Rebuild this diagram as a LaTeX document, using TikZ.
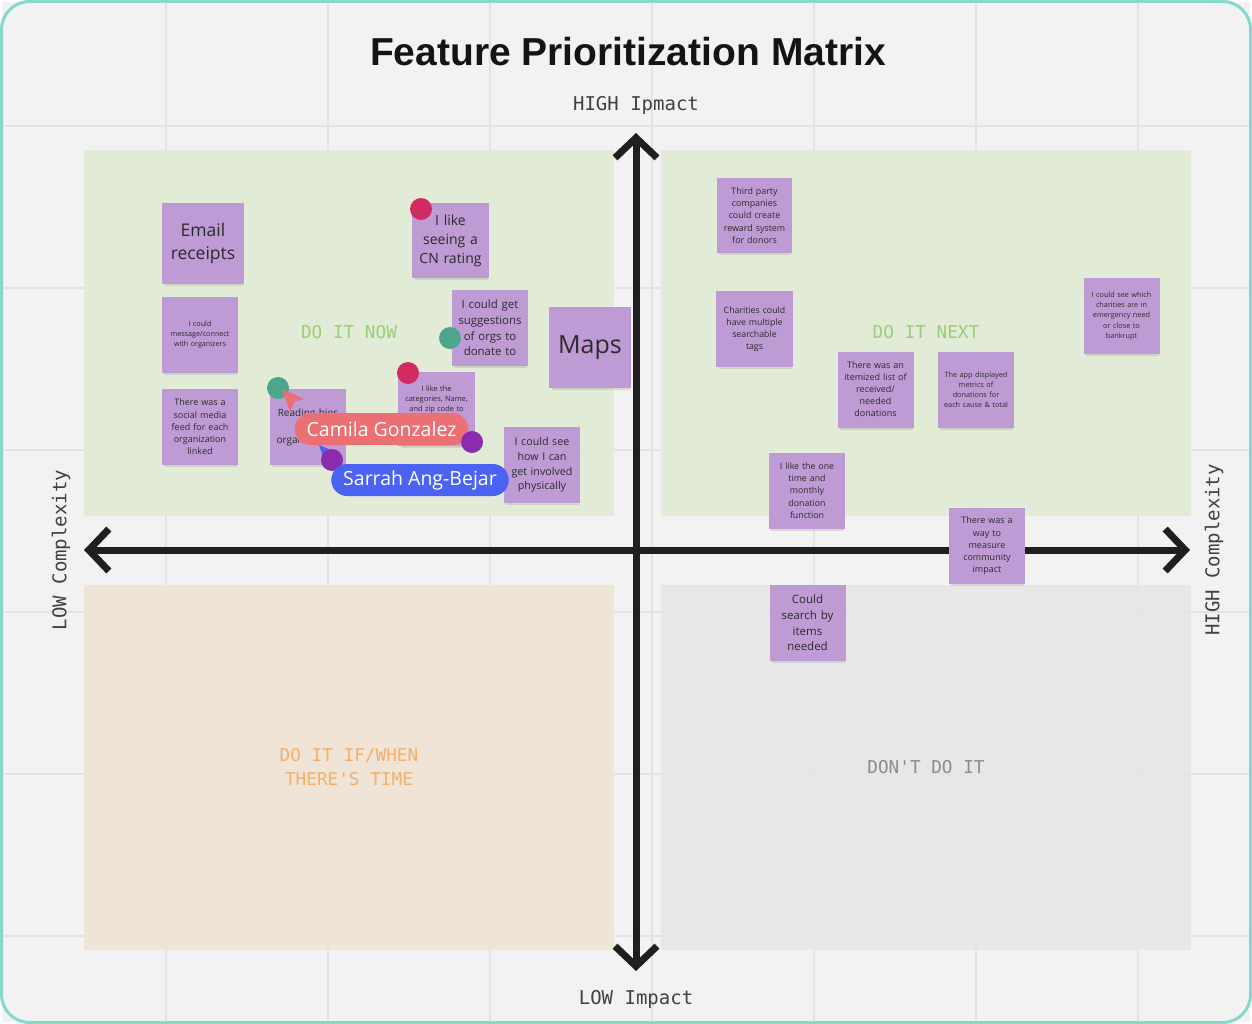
\documentclass[tikz,border=0pt]{standalone}
\usepackage{fontspec}
\setmainfont{Open Sans}
\newfontfamily\titlefont{Liberation Sans}
\newfontfamily\codefont{DejaVu Sans Mono}
\usetikzlibrary{arrows.meta,positioning,shadows}
\definecolor{frame}{HTML}{86D8CB}
\definecolor{board}{HTML}{F2F2F2}
\definecolor{gridline}{HTML}{E3E3E3}
\definecolor{nowfill}{HTML}{E0EBD4}
\definecolor{laterfill}{HTML}{F0E3D3}
\definecolor{dontfill}{HTML}{E6E6E6}
\definecolor{axisink}{HTML}{1F1F1F}
\definecolor{sticky}{HTML}{BF9BD6}
\definecolor{ink}{HTML}{2B2B2B}
\definecolor{nowtext}{HTML}{9ACF77}
\definecolor{latertext}{HTML}{F2B071}
\definecolor{donttext}{HTML}{8C8C8C}
\definecolor{dotred}{HTML}{D22B63}
\definecolor{dotteal}{HTML}{4DA58B}
\definecolor{dotpurple}{HTML}{8B2BAE}
\definecolor{pillred}{HTML}{EC6F73}
\definecolor{pillblue}{HTML}{4B63F2}
\newcommand{\nsz}[2]{\fontsize{#1}{#2}\selectfont}

\begin{document}
\begin{tikzpicture}[x=1pt,y=-1pt,
 note/.style={fill=sticky,text=ink,align=center,inner sep=0pt,text width=70pt,minimum width=76pt,minimum height=76pt,
  drop shadow={shadow xshift=1pt,shadow yshift=-4pt,opacity=.22,shadow scale=.96}},
 quad/.style={font=\codefont\nsz{17.7}{24},align=center},
 axlabel/.style={font=\codefont\nsz{19}{22},text=axisink!85,inner sep=0pt},
 axis/.style={draw=axisink,line width=7pt,{Straight Barb[length=20pt,width=42pt]}-{Straight Barb[length=20pt,width=42pt]}},
 dot/.style={circle,fill=#1,minimum size=22pt,inner sep=0pt},
 pill/.style={fill=#1,text=white,rounded corners=16pt,minimum height=32pt,inner xsep=12pt,inner ysep=0pt,font=\nsz{19.5}{23}},
 gridln/.style={draw=gridline,line width=1.6pt}]
\useasboundingbox (0,0) rectangle (1252,1024);
\fill[board] (2,2) rectangle (1250,1022);
\foreach \gx in {166,328,490,652,814,976,1138} \draw[gridln] (\gx,3) -- (\gx,1021);
\foreach \gy in {126,288,450,612,774,936} \draw[gridln] (3,\gy) -- (1249,\gy);
\fill[nowfill,opacity=.9] (84,150) rectangle (614,516);
\fill[nowfill,opacity=.9] (661,150) rectangle (1191,516);
\fill[laterfill,opacity=.9] (84,585) rectangle (614,950);
\fill[dontfill,opacity=.9] (661,585) rectangle (1191,950);
\draw[frame,line width=3pt,rounded corners=28pt] (1.5,1.5) rectangle (1250.5,1022.5);

\node[font=\titlefont\bfseries\nsz{39}{44},text=black!92] (title) at (628,52) {Feature Prioritization Matrix};
\coordinate (axT) at (636,133);
\coordinate (axB) at (636,971);
\coordinate (axL) at (84,550);
\coordinate (axR) at (1190,550);
\draw[axis] (axB) -- (axT);
\draw[axis] (axL) -- (axR);
\node[axlabel,above=18pt of axT] (high) {HIGH Ipmact};
\node[axlabel,below=19pt of axB] (low) {LOW Impact};
\node[axlabel,rotate=90] (lowc) at (61,550) {LOW Complexity};
\node[axlabel,rotate=90] (highc) at (1214,550) {HIGH Complexity};

\node[quad,text=nowtext] (now) at (349,332) {DO IT NOW};
\node[quad,text=nowtext] (next) at (926,332) {DO IT NEXT};
\node[quad,text=latertext] (later) at (349,767) {DO IT IF/WHEN\\THERE'S TIME};
\node[quad,text=donttext] (dont) at (926,767) {DON'T DO IT};

\node[note,minimum width=82pt,minimum height=81pt,font=\nsz{17.5}{23.5}] (email) at (203,243.5) {Email\\receipts};
\node[note,font=\nsz{7.2}{10}] (message) at (200,335) {I could\\message/connect\\with organizers};
\node[note,font=\nsz{9}{12.2}] (social) at (200,427) {There was a\\social media\\feed for each\\organization\\linked};
\node[note,font=\nsz{10}{13.5}] (bios) at (308,427) {Reading bios\\\mbox{}\\organizations};
\node[note,minimum width=77pt,minimum height=75pt,font=\nsz{14}{19}] (rating) at (450.5,240.5) {I like\\seeing a\\CN rating};
\node[note,font=\nsz{11.4}{15.6}] (suggest) at (490,328) {I could get\\suggestions\\of orgs to\\donate to};
\node[note,minimum width=82pt,minimum height=81pt,font=\nsz{25}{30}] (maps) at (590,347.5) {Maps};
\node[note,minimum width=77pt,minimum height=74pt,font=\nsz{7.4}{10}] (categories) at (436.5,409) {I like the\\categories, Name,\\and zip code to\\\mbox{}\\\mbox{}};
\node[note,font=\nsz{10.7}{14.6}] (involved) at (542,465) {I could see\\how I can\\get involved\\physically};

\node[note,minimum width=75pt,minimum height=75pt,font=\nsz{8.9}{12.2}] (reward) at (754.5,215.5) {Third party\\companies\\could create\\reward system\\for donors};
\node[note,minimum width=77pt,font=\nsz{8.8}{12}] (tags) at (754.5,329) {Charities could\\have multiple\\searchable\\tags};
\node[note,font=\nsz{9}{12}] (itemized) at (875.5,389.5) {There was an\\itemized list of\\received/\\needed\\donations};
\node[note,font=\nsz{7.3}{10}] (metrics) at (976,389.5) {The app displayed\\metrics of\\donations for\\each cause \& total};
\node[note,font=\nsz{7.3}{10.2}] (emergency) at (1121.5,316) {I could see which\\charities are in\\emergency need\\or close to\\bankrupt};
\node[note,font=\nsz{8.8}{12.2}] (monthly) at (807,490.5) {I like the one\\time and\\monthly\\donation\\function};
\node[note,font=\nsz{9}{12.2}] (impact) at (987,546) {There was a\\way to\\measure\\community\\impact};
\node[note,font=\nsz{11.5}{15.6}] (items) at (807.5,623) {Could\\search by\\items\\needed};

\node[dot=dotred] (dotrating) at (421,209) {};
\node[dot=dotteal] (dotsuggest) at (450,338) {};
\node[dot=dotred] (dotcateg) at (408,373) {};
\node[dot=dotteal] (dotbios) at (278,388) {};
\fill[pillred] (282,389) -- (304,399) -- (294,402) -- (290,412) -- cycle;
\node[pill=pillred] (camila) at (381.5,429) {Camila Gonzalez};
\node[dot=dotpurple] (dotinvolved) at (472,442) {};
\fill[pillblue] (319,445) -- (338,453) -- (330,456) -- (326,466) -- cycle;
\node[dot=dotpurple] (dotbejar) at (332,460) {};
\node[pill=pillblue] (sarrah) at (420,480) {Sarrah Ang-Bejar};
\end{tikzpicture}
\end{document}
